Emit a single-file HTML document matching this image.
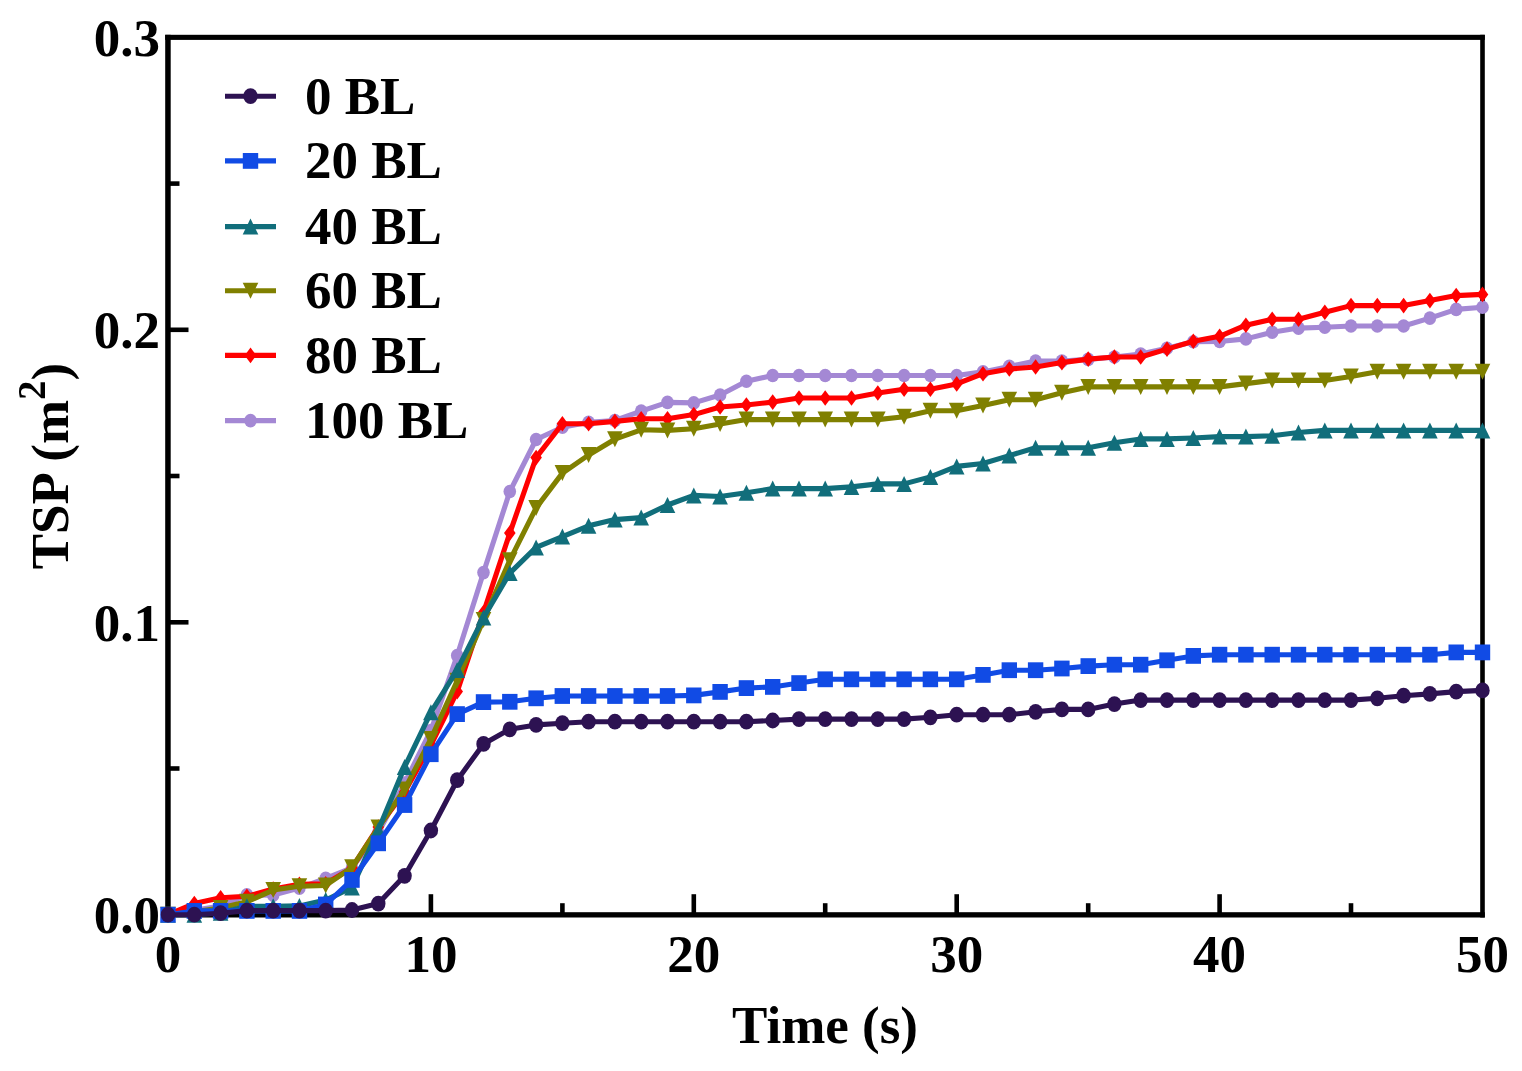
<!DOCTYPE html>
<html><head><meta charset="utf-8"><style>
html,body{margin:0;padding:0;background:#fff;overflow:hidden;}
svg{display:block;}
.tl{font-family:"Liberation Serif",serif;font-weight:bold;font-size:53px;fill:#000;}
.lg{font-family:"Liberation Serif",serif;font-weight:bold;font-size:53px;fill:#000;}
</style></head><body>
<svg width="1522" height="1071" viewBox="0 0 1522 1071">
<rect width="1522" height="1071" fill="#fff"/>
<rect x="165.2" y="34.8" width="5.5" height="882.7" fill="#000"/>
<rect x="1480.2" y="34.8" width="4.6" height="882.7" fill="#000"/>
<rect x="165.2" y="34.8" width="1319.6" height="5.1" fill="#000"/>
<rect x="165.2" y="912.2" width="1319.6" height="5.3" fill="#000"/>
<line x1="299.4" y1="914.7" x2="299.4" y2="903.2" stroke="#000" stroke-width="4.6"/>
<line x1="430.9" y1="914.7" x2="430.9" y2="894.2" stroke="#000" stroke-width="4.6"/>
<line x1="562.4" y1="914.7" x2="562.4" y2="903.2" stroke="#000" stroke-width="4.6"/>
<line x1="693.8" y1="914.7" x2="693.8" y2="894.2" stroke="#000" stroke-width="4.6"/>
<line x1="825.2" y1="914.7" x2="825.2" y2="903.2" stroke="#000" stroke-width="4.6"/>
<line x1="956.7" y1="914.7" x2="956.7" y2="894.2" stroke="#000" stroke-width="4.6"/>
<line x1="1088.2" y1="914.7" x2="1088.2" y2="903.2" stroke="#000" stroke-width="4.6"/>
<line x1="1219.6" y1="914.7" x2="1219.6" y2="894.2" stroke="#000" stroke-width="4.6"/>
<line x1="1351.0" y1="914.7" x2="1351.0" y2="903.2" stroke="#000" stroke-width="4.6"/>
<line x1="168.0" y1="768.5" x2="179.5" y2="768.5" stroke="#000" stroke-width="4.6"/>
<line x1="168.0" y1="622.3" x2="188.5" y2="622.3" stroke="#000" stroke-width="4.6"/>
<line x1="168.0" y1="476.0" x2="179.5" y2="476.0" stroke="#000" stroke-width="4.6"/>
<line x1="168.0" y1="329.8" x2="188.5" y2="329.8" stroke="#000" stroke-width="4.6"/>
<line x1="168.0" y1="183.6" x2="179.5" y2="183.6" stroke="#000" stroke-width="4.6"/>
<text x="168.0" y="972" class="tl" text-anchor="middle">0</text>
<text x="430.9" y="972" class="tl" text-anchor="middle">10</text>
<text x="693.8" y="972" class="tl" text-anchor="middle">20</text>
<text x="956.7" y="972" class="tl" text-anchor="middle">30</text>
<text x="1219.6" y="972" class="tl" text-anchor="middle">40</text>
<text x="1482.5" y="972" class="tl" text-anchor="middle">50</text>
<text x="160" y="933.2" class="tl" text-anchor="end">0.0</text>
<text x="160" y="640.8" class="tl" text-anchor="end">0.1</text>
<text x="160" y="348.3" class="tl" text-anchor="end">0.2</text>
<text x="160" y="55.9" class="tl" text-anchor="end">0.3</text>
<text x="825" y="1043" class="tl" text-anchor="middle">Time (s)</text>
<text transform="translate(68,466) rotate(-90)" class="tl" text-anchor="middle">TSP (m<tspan dy="-23" font-size="39">2</tspan><tspan dy="23">)</tspan></text>
<polyline points="168.0,914.7 194.3,910.3 220.6,905.9 246.9,894.8 273.2,895.1 299.4,888.1 325.7,878.4 352.0,867.9 378.3,832.8 404.6,783.1 430.9,730.5 457.2,655.6 483.5,572.6 509.8,491.5 536.1,439.5 562.4,427.2 588.6,422.2 614.9,420.5 641.2,411.1 667.5,402.4 693.8,402.9 720.1,395.0 746.4,381.3 772.7,375.5 799.0,375.5 825.2,375.5 851.5,375.5 877.8,375.5 904.1,375.5 930.4,375.5 956.7,375.5 983.0,371.9 1009.3,366.4 1035.6,361.1 1061.9,361.1 1088.2,359.4 1114.4,357.0 1140.7,354.1 1167.0,348.3 1193.3,341.8 1219.6,341.5 1245.9,338.9 1272.2,332.2 1298.5,328.1 1324.8,327.2 1351.0,326.0 1377.3,326.0 1403.6,326.0 1429.9,318.1 1456.2,309.4 1482.5,307.3" fill="none" stroke="#A488D4" stroke-width="5.1" stroke-linejoin="round"/>
<ellipse cx="168.0" cy="914.7" rx="6.3" ry="6.8" fill="#A488D4"/>
<ellipse cx="194.3" cy="910.3" rx="6.3" ry="6.8" fill="#A488D4"/>
<ellipse cx="220.6" cy="905.9" rx="6.3" ry="6.8" fill="#A488D4"/>
<ellipse cx="246.9" cy="894.8" rx="6.3" ry="6.8" fill="#A488D4"/>
<ellipse cx="273.2" cy="895.1" rx="6.3" ry="6.8" fill="#A488D4"/>
<ellipse cx="299.4" cy="888.1" rx="6.3" ry="6.8" fill="#A488D4"/>
<ellipse cx="325.7" cy="878.4" rx="6.3" ry="6.8" fill="#A488D4"/>
<ellipse cx="352.0" cy="867.9" rx="6.3" ry="6.8" fill="#A488D4"/>
<ellipse cx="378.3" cy="832.8" rx="6.3" ry="6.8" fill="#A488D4"/>
<ellipse cx="404.6" cy="783.1" rx="6.3" ry="6.8" fill="#A488D4"/>
<ellipse cx="430.9" cy="730.5" rx="6.3" ry="6.8" fill="#A488D4"/>
<ellipse cx="457.2" cy="655.6" rx="6.3" ry="6.8" fill="#A488D4"/>
<ellipse cx="483.5" cy="572.6" rx="6.3" ry="6.8" fill="#A488D4"/>
<ellipse cx="509.8" cy="491.5" rx="6.3" ry="6.8" fill="#A488D4"/>
<ellipse cx="536.1" cy="439.5" rx="6.3" ry="6.8" fill="#A488D4"/>
<ellipse cx="562.4" cy="427.2" rx="6.3" ry="6.8" fill="#A488D4"/>
<ellipse cx="588.6" cy="422.2" rx="6.3" ry="6.8" fill="#A488D4"/>
<ellipse cx="614.9" cy="420.5" rx="6.3" ry="6.8" fill="#A488D4"/>
<ellipse cx="641.2" cy="411.1" rx="6.3" ry="6.8" fill="#A488D4"/>
<ellipse cx="667.5" cy="402.4" rx="6.3" ry="6.8" fill="#A488D4"/>
<ellipse cx="693.8" cy="402.9" rx="6.3" ry="6.8" fill="#A488D4"/>
<ellipse cx="720.1" cy="395.0" rx="6.3" ry="6.8" fill="#A488D4"/>
<ellipse cx="746.4" cy="381.3" rx="6.3" ry="6.8" fill="#A488D4"/>
<ellipse cx="772.7" cy="375.5" rx="6.3" ry="6.8" fill="#A488D4"/>
<ellipse cx="799.0" cy="375.5" rx="6.3" ry="6.8" fill="#A488D4"/>
<ellipse cx="825.2" cy="375.5" rx="6.3" ry="6.8" fill="#A488D4"/>
<ellipse cx="851.5" cy="375.5" rx="6.3" ry="6.8" fill="#A488D4"/>
<ellipse cx="877.8" cy="375.5" rx="6.3" ry="6.8" fill="#A488D4"/>
<ellipse cx="904.1" cy="375.5" rx="6.3" ry="6.8" fill="#A488D4"/>
<ellipse cx="930.4" cy="375.5" rx="6.3" ry="6.8" fill="#A488D4"/>
<ellipse cx="956.7" cy="375.5" rx="6.3" ry="6.8" fill="#A488D4"/>
<ellipse cx="983.0" cy="371.9" rx="6.3" ry="6.8" fill="#A488D4"/>
<ellipse cx="1009.3" cy="366.4" rx="6.3" ry="6.8" fill="#A488D4"/>
<ellipse cx="1035.6" cy="361.1" rx="6.3" ry="6.8" fill="#A488D4"/>
<ellipse cx="1061.9" cy="361.1" rx="6.3" ry="6.8" fill="#A488D4"/>
<ellipse cx="1088.2" cy="359.4" rx="6.3" ry="6.8" fill="#A488D4"/>
<ellipse cx="1114.4" cy="357.0" rx="6.3" ry="6.8" fill="#A488D4"/>
<ellipse cx="1140.7" cy="354.1" rx="6.3" ry="6.8" fill="#A488D4"/>
<ellipse cx="1167.0" cy="348.3" rx="6.3" ry="6.8" fill="#A488D4"/>
<ellipse cx="1193.3" cy="341.8" rx="6.3" ry="6.8" fill="#A488D4"/>
<ellipse cx="1219.6" cy="341.5" rx="6.3" ry="6.8" fill="#A488D4"/>
<ellipse cx="1245.9" cy="338.9" rx="6.3" ry="6.8" fill="#A488D4"/>
<ellipse cx="1272.2" cy="332.2" rx="6.3" ry="6.8" fill="#A488D4"/>
<ellipse cx="1298.5" cy="328.1" rx="6.3" ry="6.8" fill="#A488D4"/>
<ellipse cx="1324.8" cy="327.2" rx="6.3" ry="6.8" fill="#A488D4"/>
<ellipse cx="1351.0" cy="326.0" rx="6.3" ry="6.8" fill="#A488D4"/>
<ellipse cx="1377.3" cy="326.0" rx="6.3" ry="6.8" fill="#A488D4"/>
<ellipse cx="1403.6" cy="326.0" rx="6.3" ry="6.8" fill="#A488D4"/>
<ellipse cx="1429.9" cy="318.1" rx="6.3" ry="6.8" fill="#A488D4"/>
<ellipse cx="1456.2" cy="309.4" rx="6.3" ry="6.8" fill="#A488D4"/>
<ellipse cx="1482.5" cy="307.3" rx="6.3" ry="6.8" fill="#A488D4"/>
<polyline points="168.0,914.7 194.3,903.6 220.6,897.7 246.9,896.3 273.2,889.0 299.4,884.3 325.7,883.7 352.0,867.9 378.3,827.0 404.6,791.9 430.9,745.1 457.2,691.6 483.5,612.6 509.8,533.1 536.1,457.6 562.4,423.7 588.6,423.7 614.9,421.4 641.2,418.7 667.5,418.7 693.8,414.6 720.1,407.0 746.4,405.0 772.7,402.1 799.0,398.0 825.2,398.0 851.5,398.0 877.8,393.0 904.1,389.2 930.4,389.2 956.7,383.9 983.0,373.7 1009.3,369.0 1035.6,367.0 1061.9,362.6 1088.2,359.1 1114.4,357.0 1140.7,357.0 1167.0,349.1 1193.3,341.2 1219.6,336.3 1245.9,325.2 1272.2,319.3 1298.5,319.3 1324.8,312.3 1351.0,305.6 1377.3,305.6 1403.6,305.6 1429.9,300.6 1456.2,295.6 1482.5,294.4" fill="none" stroke="#FF0000" stroke-width="5.1" stroke-linejoin="round"/>
<path d="M168.0 906.9L173.8 914.7L168.0 922.5L162.2 914.7Z" fill="#FF0000"/>
<path d="M194.3 895.8L200.1 903.6L194.3 911.4L188.5 903.6Z" fill="#FF0000"/>
<path d="M220.6 889.9L226.4 897.7L220.6 905.5L214.8 897.7Z" fill="#FF0000"/>
<path d="M246.9 888.5L252.7 896.3L246.9 904.1L241.1 896.3Z" fill="#FF0000"/>
<path d="M273.2 881.2L279.0 889.0L273.2 896.8L267.4 889.0Z" fill="#FF0000"/>
<path d="M299.4 876.5L305.2 884.3L299.4 892.1L293.6 884.3Z" fill="#FF0000"/>
<path d="M325.7 875.9L331.5 883.7L325.7 891.5L319.9 883.7Z" fill="#FF0000"/>
<path d="M352.0 860.1L357.8 867.9L352.0 875.7L346.2 867.9Z" fill="#FF0000"/>
<path d="M378.3 819.2L384.1 827.0L378.3 834.8L372.5 827.0Z" fill="#FF0000"/>
<path d="M404.6 784.1L410.4 791.9L404.6 799.7L398.8 791.9Z" fill="#FF0000"/>
<path d="M430.9 737.3L436.7 745.1L430.9 752.9L425.1 745.1Z" fill="#FF0000"/>
<path d="M457.2 683.8L463.0 691.6L457.2 699.4L451.4 691.6Z" fill="#FF0000"/>
<path d="M483.5 604.8L489.3 612.6L483.5 620.4L477.7 612.6Z" fill="#FF0000"/>
<path d="M509.8 525.3L515.6 533.1L509.8 540.9L504.0 533.1Z" fill="#FF0000"/>
<path d="M536.1 449.8L541.9 457.6L536.1 465.4L530.3 457.6Z" fill="#FF0000"/>
<path d="M562.4 415.9L568.1 423.7L562.4 431.5L556.6 423.7Z" fill="#FF0000"/>
<path d="M588.6 415.9L594.4 423.7L588.6 431.5L582.8 423.7Z" fill="#FF0000"/>
<path d="M614.9 413.6L620.7 421.4L614.9 429.2L609.1 421.4Z" fill="#FF0000"/>
<path d="M641.2 410.9L647.0 418.7L641.2 426.5L635.4 418.7Z" fill="#FF0000"/>
<path d="M667.5 410.9L673.3 418.7L667.5 426.5L661.7 418.7Z" fill="#FF0000"/>
<path d="M693.8 406.8L699.6 414.6L693.8 422.4L688.0 414.6Z" fill="#FF0000"/>
<path d="M720.1 399.2L725.9 407.0L720.1 414.8L714.3 407.0Z" fill="#FF0000"/>
<path d="M746.4 397.2L752.2 405.0L746.4 412.8L740.6 405.0Z" fill="#FF0000"/>
<path d="M772.7 394.3L778.5 402.1L772.7 409.9L766.9 402.1Z" fill="#FF0000"/>
<path d="M799.0 390.2L804.8 398.0L799.0 405.8L793.2 398.0Z" fill="#FF0000"/>
<path d="M825.2 390.2L831.0 398.0L825.2 405.8L819.5 398.0Z" fill="#FF0000"/>
<path d="M851.5 390.2L857.3 398.0L851.5 405.8L845.7 398.0Z" fill="#FF0000"/>
<path d="M877.8 385.2L883.6 393.0L877.8 400.8L872.0 393.0Z" fill="#FF0000"/>
<path d="M904.1 381.4L909.9 389.2L904.1 397.0L898.3 389.2Z" fill="#FF0000"/>
<path d="M930.4 381.4L936.2 389.2L930.4 397.0L924.6 389.2Z" fill="#FF0000"/>
<path d="M956.7 376.1L962.5 383.9L956.7 391.7L950.9 383.9Z" fill="#FF0000"/>
<path d="M983.0 365.9L988.8 373.7L983.0 381.5L977.2 373.7Z" fill="#FF0000"/>
<path d="M1009.3 361.2L1015.1 369.0L1009.3 376.8L1003.5 369.0Z" fill="#FF0000"/>
<path d="M1035.6 359.2L1041.4 367.0L1035.6 374.8L1029.8 367.0Z" fill="#FF0000"/>
<path d="M1061.9 354.8L1067.7 362.6L1061.9 370.4L1056.1 362.6Z" fill="#FF0000"/>
<path d="M1088.2 351.3L1094.0 359.1L1088.2 366.9L1082.4 359.1Z" fill="#FF0000"/>
<path d="M1114.4 349.2L1120.2 357.0L1114.4 364.8L1108.6 357.0Z" fill="#FF0000"/>
<path d="M1140.7 349.2L1146.5 357.0L1140.7 364.8L1134.9 357.0Z" fill="#FF0000"/>
<path d="M1167.0 341.3L1172.8 349.1L1167.0 356.9L1161.2 349.1Z" fill="#FF0000"/>
<path d="M1193.3 333.4L1199.1 341.2L1193.3 349.0L1187.5 341.2Z" fill="#FF0000"/>
<path d="M1219.6 328.5L1225.4 336.3L1219.6 344.1L1213.8 336.3Z" fill="#FF0000"/>
<path d="M1245.9 317.4L1251.7 325.2L1245.9 333.0L1240.1 325.2Z" fill="#FF0000"/>
<path d="M1272.2 311.5L1278.0 319.3L1272.2 327.1L1266.4 319.3Z" fill="#FF0000"/>
<path d="M1298.5 311.5L1304.3 319.3L1298.5 327.1L1292.7 319.3Z" fill="#FF0000"/>
<path d="M1324.8 304.5L1330.6 312.3L1324.8 320.1L1319.0 312.3Z" fill="#FF0000"/>
<path d="M1351.0 297.8L1356.8 305.6L1351.0 313.4L1345.2 305.6Z" fill="#FF0000"/>
<path d="M1377.3 297.8L1383.1 305.6L1377.3 313.4L1371.5 305.6Z" fill="#FF0000"/>
<path d="M1403.6 297.8L1409.4 305.6L1403.6 313.4L1397.8 305.6Z" fill="#FF0000"/>
<path d="M1429.9 292.8L1435.7 300.6L1429.9 308.4L1424.1 300.6Z" fill="#FF0000"/>
<path d="M1456.2 287.8L1462.0 295.6L1456.2 303.4L1450.4 295.6Z" fill="#FF0000"/>
<path d="M1482.5 286.6L1488.3 294.4L1482.5 302.2L1476.7 294.4Z" fill="#FF0000"/>
<polyline points="168.0,914.7 194.3,911.8 220.6,908.0 246.9,901.8 273.2,890.1 299.4,886.3 325.7,885.5 352.0,867.3 378.3,827.6 404.6,789.5 430.9,738.9 457.2,680.8 483.5,619.9 509.8,560.3 536.1,507.9 562.4,473.1 588.6,455.0 614.9,439.2 641.2,429.8 667.5,430.4 693.8,428.7 720.1,424.0 746.4,419.6 772.7,419.6 799.0,419.6 825.2,419.6 851.5,419.6 877.8,419.6 904.1,416.7 930.4,410.8 956.7,410.8 983.0,405.6 1009.3,399.7 1035.6,399.7 1061.9,392.7 1088.2,386.9 1114.4,386.9 1140.7,386.9 1167.0,386.9 1193.3,386.9 1219.6,386.9 1245.9,383.6 1272.2,380.4 1298.5,380.4 1324.8,380.4 1351.0,376.6 1377.3,371.7 1403.6,371.7 1429.9,371.7 1456.2,371.7 1482.5,371.7" fill="none" stroke="#808000" stroke-width="5.1" stroke-linejoin="round"/>
<path d="M160.2 906.7L175.8 906.7L168.0 922.7Z" fill="#808000"/>
<path d="M186.5 903.8L202.1 903.8L194.3 919.8Z" fill="#808000"/>
<path d="M212.8 900.0L228.4 900.0L220.6 916.0Z" fill="#808000"/>
<path d="M239.1 893.8L254.7 893.8L246.9 909.8Z" fill="#808000"/>
<path d="M265.4 882.1L281.0 882.1L273.2 898.1Z" fill="#808000"/>
<path d="M291.6 878.3L307.2 878.3L299.4 894.3Z" fill="#808000"/>
<path d="M317.9 877.5L333.5 877.5L325.7 893.5Z" fill="#808000"/>
<path d="M344.2 859.3L359.8 859.3L352.0 875.3Z" fill="#808000"/>
<path d="M370.5 819.6L386.1 819.6L378.3 835.6Z" fill="#808000"/>
<path d="M396.8 781.5L412.4 781.5L404.6 797.5Z" fill="#808000"/>
<path d="M423.1 730.9L438.7 730.9L430.9 746.9Z" fill="#808000"/>
<path d="M449.4 672.8L465.0 672.8L457.2 688.8Z" fill="#808000"/>
<path d="M475.7 611.9L491.3 611.9L483.5 627.9Z" fill="#808000"/>
<path d="M502.0 552.3L517.6 552.3L509.8 568.3Z" fill="#808000"/>
<path d="M528.3 499.9L543.9 499.9L536.1 515.9Z" fill="#808000"/>
<path d="M554.6 465.1L570.1 465.1L562.4 481.1Z" fill="#808000"/>
<path d="M580.8 447.0L596.4 447.0L588.6 463.0Z" fill="#808000"/>
<path d="M607.1 431.2L622.7 431.2L614.9 447.2Z" fill="#808000"/>
<path d="M633.4 421.8L649.0 421.8L641.2 437.8Z" fill="#808000"/>
<path d="M659.7 422.4L675.3 422.4L667.5 438.4Z" fill="#808000"/>
<path d="M686.0 420.7L701.6 420.7L693.8 436.7Z" fill="#808000"/>
<path d="M712.3 416.0L727.9 416.0L720.1 432.0Z" fill="#808000"/>
<path d="M738.6 411.6L754.2 411.6L746.4 427.6Z" fill="#808000"/>
<path d="M764.9 411.6L780.5 411.6L772.7 427.6Z" fill="#808000"/>
<path d="M791.2 411.6L806.8 411.6L799.0 427.6Z" fill="#808000"/>
<path d="M817.5 411.6L833.0 411.6L825.2 427.6Z" fill="#808000"/>
<path d="M843.7 411.6L859.3 411.6L851.5 427.6Z" fill="#808000"/>
<path d="M870.0 411.6L885.6 411.6L877.8 427.6Z" fill="#808000"/>
<path d="M896.3 408.7L911.9 408.7L904.1 424.7Z" fill="#808000"/>
<path d="M922.6 402.8L938.2 402.8L930.4 418.8Z" fill="#808000"/>
<path d="M948.9 402.8L964.5 402.8L956.7 418.8Z" fill="#808000"/>
<path d="M975.2 397.6L990.8 397.6L983.0 413.6Z" fill="#808000"/>
<path d="M1001.5 391.7L1017.1 391.7L1009.3 407.7Z" fill="#808000"/>
<path d="M1027.8 391.7L1043.4 391.7L1035.6 407.7Z" fill="#808000"/>
<path d="M1054.1 384.7L1069.7 384.7L1061.9 400.7Z" fill="#808000"/>
<path d="M1080.4 378.9L1096.0 378.9L1088.2 394.9Z" fill="#808000"/>
<path d="M1106.6 378.9L1122.2 378.9L1114.4 394.9Z" fill="#808000"/>
<path d="M1132.9 378.9L1148.5 378.9L1140.7 394.9Z" fill="#808000"/>
<path d="M1159.2 378.9L1174.8 378.9L1167.0 394.9Z" fill="#808000"/>
<path d="M1185.5 378.9L1201.1 378.9L1193.3 394.9Z" fill="#808000"/>
<path d="M1211.8 378.9L1227.4 378.9L1219.6 394.9Z" fill="#808000"/>
<path d="M1238.1 375.6L1253.7 375.6L1245.9 391.6Z" fill="#808000"/>
<path d="M1264.4 372.4L1280.0 372.4L1272.2 388.4Z" fill="#808000"/>
<path d="M1290.7 372.4L1306.3 372.4L1298.5 388.4Z" fill="#808000"/>
<path d="M1317.0 372.4L1332.6 372.4L1324.8 388.4Z" fill="#808000"/>
<path d="M1343.2 368.6L1358.8 368.6L1351.0 384.6Z" fill="#808000"/>
<path d="M1369.5 363.7L1385.1 363.7L1377.3 379.7Z" fill="#808000"/>
<path d="M1395.8 363.7L1411.4 363.7L1403.6 379.7Z" fill="#808000"/>
<path d="M1422.1 363.7L1437.7 363.7L1429.9 379.7Z" fill="#808000"/>
<path d="M1448.4 363.7L1464.0 363.7L1456.2 379.7Z" fill="#808000"/>
<path d="M1474.7 363.7L1490.3 363.7L1482.5 379.7Z" fill="#808000"/>
<polyline points="168.0,914.7 194.3,914.7 220.6,912.7 246.9,906.2 273.2,906.2 299.4,905.9 325.7,900.1 352.0,887.5 378.3,829.9 404.6,767.0 430.9,712.3 457.2,669.9 483.5,617.6 509.8,573.1 536.1,547.4 562.4,536.6 588.6,525.8 614.9,519.6 641.2,517.6 667.5,505.0 693.8,495.4 720.1,496.5 746.4,492.7 772.7,488.6 799.0,488.6 825.2,488.6 851.5,486.9 877.8,483.9 904.1,483.9 930.4,476.9 956.7,466.4 983.0,463.5 1009.3,455.6 1035.6,447.7 1061.9,447.7 1088.2,447.7 1114.4,442.7 1140.7,438.9 1167.0,438.9 1193.3,438.0 1219.6,436.6 1245.9,436.6 1272.2,435.7 1298.5,432.5 1324.8,430.4 1351.0,430.4 1377.3,430.4 1403.6,430.4 1429.9,430.4 1456.2,430.4 1482.5,430.4" fill="none" stroke="#116E7B" stroke-width="5.1" stroke-linejoin="round"/>
<path d="M168.0 906.7L175.8 922.7L160.2 922.7Z" fill="#116E7B"/>
<path d="M194.3 906.7L202.1 922.7L186.5 922.7Z" fill="#116E7B"/>
<path d="M220.6 904.7L228.4 920.7L212.8 920.7Z" fill="#116E7B"/>
<path d="M246.9 898.2L254.7 914.2L239.1 914.2Z" fill="#116E7B"/>
<path d="M273.2 898.2L281.0 914.2L265.4 914.2Z" fill="#116E7B"/>
<path d="M299.4 897.9L307.2 913.9L291.6 913.9Z" fill="#116E7B"/>
<path d="M325.7 892.1L333.5 908.1L317.9 908.1Z" fill="#116E7B"/>
<path d="M352.0 879.5L359.8 895.5L344.2 895.5Z" fill="#116E7B"/>
<path d="M378.3 821.9L386.1 837.9L370.5 837.9Z" fill="#116E7B"/>
<path d="M404.6 759.0L412.4 775.0L396.8 775.0Z" fill="#116E7B"/>
<path d="M430.9 704.3L438.7 720.3L423.1 720.3Z" fill="#116E7B"/>
<path d="M457.2 661.9L465.0 677.9L449.4 677.9Z" fill="#116E7B"/>
<path d="M483.5 609.6L491.3 625.6L475.7 625.6Z" fill="#116E7B"/>
<path d="M509.8 565.1L517.6 581.1L502.0 581.1Z" fill="#116E7B"/>
<path d="M536.1 539.4L543.9 555.4L528.3 555.4Z" fill="#116E7B"/>
<path d="M562.4 528.6L570.1 544.6L554.6 544.6Z" fill="#116E7B"/>
<path d="M588.6 517.8L596.4 533.8L580.8 533.8Z" fill="#116E7B"/>
<path d="M614.9 511.6L622.7 527.6L607.1 527.6Z" fill="#116E7B"/>
<path d="M641.2 509.6L649.0 525.6L633.4 525.6Z" fill="#116E7B"/>
<path d="M667.5 497.0L675.3 513.0L659.7 513.0Z" fill="#116E7B"/>
<path d="M693.8 487.4L701.6 503.4L686.0 503.4Z" fill="#116E7B"/>
<path d="M720.1 488.5L727.9 504.5L712.3 504.5Z" fill="#116E7B"/>
<path d="M746.4 484.7L754.2 500.7L738.6 500.7Z" fill="#116E7B"/>
<path d="M772.7 480.6L780.5 496.6L764.9 496.6Z" fill="#116E7B"/>
<path d="M799.0 480.6L806.8 496.6L791.2 496.6Z" fill="#116E7B"/>
<path d="M825.2 480.6L833.0 496.6L817.5 496.6Z" fill="#116E7B"/>
<path d="M851.5 478.9L859.3 494.9L843.7 494.9Z" fill="#116E7B"/>
<path d="M877.8 475.9L885.6 491.9L870.0 491.9Z" fill="#116E7B"/>
<path d="M904.1 475.9L911.9 491.9L896.3 491.9Z" fill="#116E7B"/>
<path d="M930.4 468.9L938.2 484.9L922.6 484.9Z" fill="#116E7B"/>
<path d="M956.7 458.4L964.5 474.4L948.9 474.4Z" fill="#116E7B"/>
<path d="M983.0 455.5L990.8 471.5L975.2 471.5Z" fill="#116E7B"/>
<path d="M1009.3 447.6L1017.1 463.6L1001.5 463.6Z" fill="#116E7B"/>
<path d="M1035.6 439.7L1043.4 455.7L1027.8 455.7Z" fill="#116E7B"/>
<path d="M1061.9 439.7L1069.7 455.7L1054.1 455.7Z" fill="#116E7B"/>
<path d="M1088.2 439.7L1096.0 455.7L1080.4 455.7Z" fill="#116E7B"/>
<path d="M1114.4 434.7L1122.2 450.7L1106.6 450.7Z" fill="#116E7B"/>
<path d="M1140.7 430.9L1148.5 446.9L1132.9 446.9Z" fill="#116E7B"/>
<path d="M1167.0 430.9L1174.8 446.9L1159.2 446.9Z" fill="#116E7B"/>
<path d="M1193.3 430.0L1201.1 446.0L1185.5 446.0Z" fill="#116E7B"/>
<path d="M1219.6 428.6L1227.4 444.6L1211.8 444.6Z" fill="#116E7B"/>
<path d="M1245.9 428.6L1253.7 444.6L1238.1 444.6Z" fill="#116E7B"/>
<path d="M1272.2 427.7L1280.0 443.7L1264.4 443.7Z" fill="#116E7B"/>
<path d="M1298.5 424.5L1306.3 440.5L1290.7 440.5Z" fill="#116E7B"/>
<path d="M1324.8 422.4L1332.6 438.4L1317.0 438.4Z" fill="#116E7B"/>
<path d="M1351.0 422.4L1358.8 438.4L1343.2 438.4Z" fill="#116E7B"/>
<path d="M1377.3 422.4L1385.1 438.4L1369.5 438.4Z" fill="#116E7B"/>
<path d="M1403.6 422.4L1411.4 438.4L1395.8 438.4Z" fill="#116E7B"/>
<path d="M1429.9 422.4L1437.7 438.4L1422.1 438.4Z" fill="#116E7B"/>
<path d="M1456.2 422.4L1464.0 438.4L1448.4 438.4Z" fill="#116E7B"/>
<path d="M1482.5 422.4L1490.3 438.4L1474.7 438.4Z" fill="#116E7B"/>
<polyline points="168.0,914.7 194.3,910.9 220.6,910.9 246.9,910.9 273.2,910.9 299.4,910.9 325.7,904.5 352.0,879.9 378.3,843.3 404.6,805.0 430.9,754.2 457.2,714.1 483.5,702.1 509.8,701.8 536.1,698.3 562.4,696.0 588.6,696.0 614.9,696.0 641.2,696.0 667.5,696.0 693.8,695.4 720.1,691.9 746.4,688.1 772.7,686.9 799.0,683.1 825.2,679.3 851.5,679.3 877.8,679.3 904.1,679.3 930.4,679.3 956.7,679.3 983.0,674.9 1009.3,670.2 1035.6,670.2 1061.9,668.5 1088.2,666.1 1114.4,664.7 1140.7,664.7 1167.0,660.3 1193.3,655.9 1219.6,654.7 1245.9,654.7 1272.2,654.7 1298.5,654.7 1324.8,654.7 1351.0,654.7 1377.3,654.7 1403.6,654.7 1429.9,654.7 1456.2,652.4 1482.5,652.4" fill="none" stroke="#114BE5" stroke-width="5.1" stroke-linejoin="round"/>
<rect x="160.3" y="906.8" width="15.4" height="15.8" fill="#114BE5"/>
<rect x="186.6" y="903.0" width="15.4" height="15.8" fill="#114BE5"/>
<rect x="212.9" y="903.0" width="15.4" height="15.8" fill="#114BE5"/>
<rect x="239.2" y="903.0" width="15.4" height="15.8" fill="#114BE5"/>
<rect x="265.5" y="903.0" width="15.4" height="15.8" fill="#114BE5"/>
<rect x="291.8" y="903.0" width="15.4" height="15.8" fill="#114BE5"/>
<rect x="318.0" y="896.6" width="15.4" height="15.8" fill="#114BE5"/>
<rect x="344.3" y="872.0" width="15.4" height="15.8" fill="#114BE5"/>
<rect x="370.6" y="835.4" width="15.4" height="15.8" fill="#114BE5"/>
<rect x="396.9" y="797.1" width="15.4" height="15.8" fill="#114BE5"/>
<rect x="423.2" y="746.3" width="15.4" height="15.8" fill="#114BE5"/>
<rect x="449.5" y="706.2" width="15.4" height="15.8" fill="#114BE5"/>
<rect x="475.8" y="694.2" width="15.4" height="15.8" fill="#114BE5"/>
<rect x="502.1" y="693.9" width="15.4" height="15.8" fill="#114BE5"/>
<rect x="528.4" y="690.4" width="15.4" height="15.8" fill="#114BE5"/>
<rect x="554.6" y="688.1" width="15.4" height="15.8" fill="#114BE5"/>
<rect x="580.9" y="688.1" width="15.4" height="15.8" fill="#114BE5"/>
<rect x="607.2" y="688.1" width="15.4" height="15.8" fill="#114BE5"/>
<rect x="633.5" y="688.1" width="15.4" height="15.8" fill="#114BE5"/>
<rect x="659.8" y="688.1" width="15.4" height="15.8" fill="#114BE5"/>
<rect x="686.1" y="687.5" width="15.4" height="15.8" fill="#114BE5"/>
<rect x="712.4" y="684.0" width="15.4" height="15.8" fill="#114BE5"/>
<rect x="738.7" y="680.2" width="15.4" height="15.8" fill="#114BE5"/>
<rect x="765.0" y="679.0" width="15.4" height="15.8" fill="#114BE5"/>
<rect x="791.3" y="675.2" width="15.4" height="15.8" fill="#114BE5"/>
<rect x="817.5" y="671.4" width="15.4" height="15.8" fill="#114BE5"/>
<rect x="843.8" y="671.4" width="15.4" height="15.8" fill="#114BE5"/>
<rect x="870.1" y="671.4" width="15.4" height="15.8" fill="#114BE5"/>
<rect x="896.4" y="671.4" width="15.4" height="15.8" fill="#114BE5"/>
<rect x="922.7" y="671.4" width="15.4" height="15.8" fill="#114BE5"/>
<rect x="949.0" y="671.4" width="15.4" height="15.8" fill="#114BE5"/>
<rect x="975.3" y="667.0" width="15.4" height="15.8" fill="#114BE5"/>
<rect x="1001.6" y="662.3" width="15.4" height="15.8" fill="#114BE5"/>
<rect x="1027.9" y="662.3" width="15.4" height="15.8" fill="#114BE5"/>
<rect x="1054.2" y="660.6" width="15.4" height="15.8" fill="#114BE5"/>
<rect x="1080.5" y="658.2" width="15.4" height="15.8" fill="#114BE5"/>
<rect x="1106.7" y="656.8" width="15.4" height="15.8" fill="#114BE5"/>
<rect x="1133.0" y="656.8" width="15.4" height="15.8" fill="#114BE5"/>
<rect x="1159.3" y="652.4" width="15.4" height="15.8" fill="#114BE5"/>
<rect x="1185.6" y="648.0" width="15.4" height="15.8" fill="#114BE5"/>
<rect x="1211.9" y="646.8" width="15.4" height="15.8" fill="#114BE5"/>
<rect x="1238.2" y="646.8" width="15.4" height="15.8" fill="#114BE5"/>
<rect x="1264.5" y="646.8" width="15.4" height="15.8" fill="#114BE5"/>
<rect x="1290.8" y="646.8" width="15.4" height="15.8" fill="#114BE5"/>
<rect x="1317.1" y="646.8" width="15.4" height="15.8" fill="#114BE5"/>
<rect x="1343.3" y="646.8" width="15.4" height="15.8" fill="#114BE5"/>
<rect x="1369.6" y="646.8" width="15.4" height="15.8" fill="#114BE5"/>
<rect x="1395.9" y="646.8" width="15.4" height="15.8" fill="#114BE5"/>
<rect x="1422.2" y="646.8" width="15.4" height="15.8" fill="#114BE5"/>
<rect x="1448.5" y="644.5" width="15.4" height="15.8" fill="#114BE5"/>
<rect x="1474.8" y="644.5" width="15.4" height="15.8" fill="#114BE5"/>
<polyline points="168.0,914.7 194.3,914.7 220.6,913.2 246.9,910.6 273.2,910.6 299.4,910.6 325.7,910.6 352.0,910.0 378.3,903.6 404.6,875.8 430.9,830.5 457.2,780.2 483.5,743.9 509.8,729.3 536.1,724.9 562.4,723.2 588.6,721.7 614.9,721.7 641.2,721.7 667.5,721.7 693.8,721.7 720.1,721.7 746.4,721.7 772.7,720.5 799.0,719.1 825.2,719.1 851.5,719.1 877.8,719.1 904.1,719.1 930.4,717.3 956.7,714.7 983.0,714.7 1009.3,714.7 1035.6,711.8 1061.9,709.4 1088.2,709.4 1114.4,704.1 1140.7,700.1 1167.0,700.1 1193.3,700.1 1219.6,700.1 1245.9,700.1 1272.2,700.1 1298.5,700.1 1324.8,700.1 1351.0,700.1 1377.3,698.3 1403.6,695.7 1429.9,693.9 1456.2,691.6 1482.5,690.4" fill="none" stroke="#2D1252" stroke-width="5.1" stroke-linejoin="round"/>
<ellipse cx="168.0" cy="914.7" rx="7.2" ry="7.9" fill="#2D1252"/>
<ellipse cx="194.3" cy="914.7" rx="7.2" ry="7.9" fill="#2D1252"/>
<ellipse cx="220.6" cy="913.2" rx="7.2" ry="7.9" fill="#2D1252"/>
<ellipse cx="246.9" cy="910.6" rx="7.2" ry="7.9" fill="#2D1252"/>
<ellipse cx="273.2" cy="910.6" rx="7.2" ry="7.9" fill="#2D1252"/>
<ellipse cx="299.4" cy="910.6" rx="7.2" ry="7.9" fill="#2D1252"/>
<ellipse cx="325.7" cy="910.6" rx="7.2" ry="7.9" fill="#2D1252"/>
<ellipse cx="352.0" cy="910.0" rx="7.2" ry="7.9" fill="#2D1252"/>
<ellipse cx="378.3" cy="903.6" rx="7.2" ry="7.9" fill="#2D1252"/>
<ellipse cx="404.6" cy="875.8" rx="7.2" ry="7.9" fill="#2D1252"/>
<ellipse cx="430.9" cy="830.5" rx="7.2" ry="7.9" fill="#2D1252"/>
<ellipse cx="457.2" cy="780.2" rx="7.2" ry="7.9" fill="#2D1252"/>
<ellipse cx="483.5" cy="743.9" rx="7.2" ry="7.9" fill="#2D1252"/>
<ellipse cx="509.8" cy="729.3" rx="7.2" ry="7.9" fill="#2D1252"/>
<ellipse cx="536.1" cy="724.9" rx="7.2" ry="7.9" fill="#2D1252"/>
<ellipse cx="562.4" cy="723.2" rx="7.2" ry="7.9" fill="#2D1252"/>
<ellipse cx="588.6" cy="721.7" rx="7.2" ry="7.9" fill="#2D1252"/>
<ellipse cx="614.9" cy="721.7" rx="7.2" ry="7.9" fill="#2D1252"/>
<ellipse cx="641.2" cy="721.7" rx="7.2" ry="7.9" fill="#2D1252"/>
<ellipse cx="667.5" cy="721.7" rx="7.2" ry="7.9" fill="#2D1252"/>
<ellipse cx="693.8" cy="721.7" rx="7.2" ry="7.9" fill="#2D1252"/>
<ellipse cx="720.1" cy="721.7" rx="7.2" ry="7.9" fill="#2D1252"/>
<ellipse cx="746.4" cy="721.7" rx="7.2" ry="7.9" fill="#2D1252"/>
<ellipse cx="772.7" cy="720.5" rx="7.2" ry="7.9" fill="#2D1252"/>
<ellipse cx="799.0" cy="719.1" rx="7.2" ry="7.9" fill="#2D1252"/>
<ellipse cx="825.2" cy="719.1" rx="7.2" ry="7.9" fill="#2D1252"/>
<ellipse cx="851.5" cy="719.1" rx="7.2" ry="7.9" fill="#2D1252"/>
<ellipse cx="877.8" cy="719.1" rx="7.2" ry="7.9" fill="#2D1252"/>
<ellipse cx="904.1" cy="719.1" rx="7.2" ry="7.9" fill="#2D1252"/>
<ellipse cx="930.4" cy="717.3" rx="7.2" ry="7.9" fill="#2D1252"/>
<ellipse cx="956.7" cy="714.7" rx="7.2" ry="7.9" fill="#2D1252"/>
<ellipse cx="983.0" cy="714.7" rx="7.2" ry="7.9" fill="#2D1252"/>
<ellipse cx="1009.3" cy="714.7" rx="7.2" ry="7.9" fill="#2D1252"/>
<ellipse cx="1035.6" cy="711.8" rx="7.2" ry="7.9" fill="#2D1252"/>
<ellipse cx="1061.9" cy="709.4" rx="7.2" ry="7.9" fill="#2D1252"/>
<ellipse cx="1088.2" cy="709.4" rx="7.2" ry="7.9" fill="#2D1252"/>
<ellipse cx="1114.4" cy="704.1" rx="7.2" ry="7.9" fill="#2D1252"/>
<ellipse cx="1140.7" cy="700.1" rx="7.2" ry="7.9" fill="#2D1252"/>
<ellipse cx="1167.0" cy="700.1" rx="7.2" ry="7.9" fill="#2D1252"/>
<ellipse cx="1193.3" cy="700.1" rx="7.2" ry="7.9" fill="#2D1252"/>
<ellipse cx="1219.6" cy="700.1" rx="7.2" ry="7.9" fill="#2D1252"/>
<ellipse cx="1245.9" cy="700.1" rx="7.2" ry="7.9" fill="#2D1252"/>
<ellipse cx="1272.2" cy="700.1" rx="7.2" ry="7.9" fill="#2D1252"/>
<ellipse cx="1298.5" cy="700.1" rx="7.2" ry="7.9" fill="#2D1252"/>
<ellipse cx="1324.8" cy="700.1" rx="7.2" ry="7.9" fill="#2D1252"/>
<ellipse cx="1351.0" cy="700.1" rx="7.2" ry="7.9" fill="#2D1252"/>
<ellipse cx="1377.3" cy="698.3" rx="7.2" ry="7.9" fill="#2D1252"/>
<ellipse cx="1403.6" cy="695.7" rx="7.2" ry="7.9" fill="#2D1252"/>
<ellipse cx="1429.9" cy="693.9" rx="7.2" ry="7.9" fill="#2D1252"/>
<ellipse cx="1456.2" cy="691.6" rx="7.2" ry="7.9" fill="#2D1252"/>
<ellipse cx="1482.5" cy="690.4" rx="7.2" ry="7.9" fill="#2D1252"/>
<line x1="225" y1="96.2" x2="276" y2="96.2" stroke="#2D1252" stroke-width="5.1"/>
<ellipse cx="250.5" cy="96.2" rx="7.2" ry="7.9" fill="#2D1252"/>
<text x="305" y="113.7" class="lg">0 BL</text>
<line x1="225" y1="160.9" x2="276" y2="160.9" stroke="#114BE5" stroke-width="5.1"/>
<rect x="242.8" y="153.0" width="15.4" height="15.8" fill="#114BE5"/>
<text x="305" y="178.4" class="lg">20 BL</text>
<line x1="225" y1="226.6" x2="276" y2="226.6" stroke="#116E7B" stroke-width="5.1"/>
<path d="M250.5 218.6L258.3 234.6L242.7 234.6Z" fill="#116E7B"/>
<text x="305" y="244.1" class="lg">40 BL</text>
<line x1="225" y1="290.7" x2="276" y2="290.7" stroke="#808000" stroke-width="5.1"/>
<path d="M242.7 282.7L258.3 282.7L250.5 298.7Z" fill="#808000"/>
<text x="305" y="308.2" class="lg">60 BL</text>
<line x1="225" y1="355.4" x2="276" y2="355.4" stroke="#FF0000" stroke-width="5.1"/>
<path d="M250.5 347.6L256.3 355.4L250.5 363.2L244.7 355.4Z" fill="#FF0000"/>
<text x="305" y="372.9" class="lg">80 BL</text>
<line x1="225" y1="420.6" x2="276" y2="420.6" stroke="#A488D4" stroke-width="5.1"/>
<ellipse cx="250.5" cy="420.6" rx="6.3" ry="6.8" fill="#A488D4"/>
<text x="305" y="438.1" class="lg">100 BL</text>
</svg>
</body></html>
